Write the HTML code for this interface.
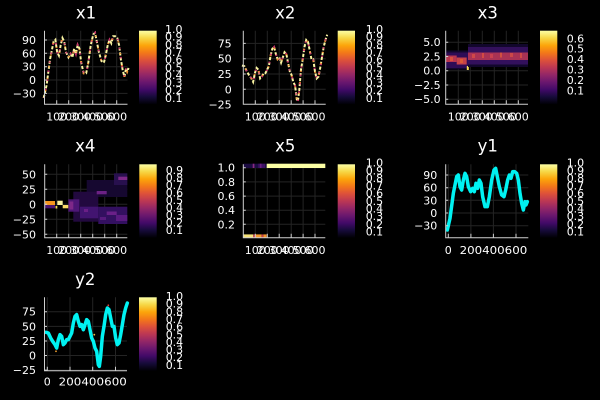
<!DOCTYPE html>
<html><head><meta charset="utf-8"><style>
html,body{margin:0;padding:0;background:#000;}
svg{display:block;}
text{font-family:"DejaVu Sans","Liberation Sans",sans-serif;fill:#fff;}
.t{font-size:16.5px;text-anchor:middle;}
.yl{font-size:11px;text-anchor:end;}
.xl{font-size:11px;text-anchor:middle;}
.cl{font-size:11px;text-anchor:start;}
.g{stroke:#242424;stroke-width:1;fill:none;}
.ax{stroke:#cfcfcf;stroke-width:1;fill:none;}
</style></head><body>
<svg width="600" height="400" viewBox="0 0 600 400" xmlns="http://www.w3.org/2000/svg">
<defs>
<linearGradient id="inf" x1="0" y1="1" x2="0" y2="0">
<stop offset="0" stop-color="#000004"/><stop offset="0.1" stop-color="#160b39"/><stop offset="0.2" stop-color="#420a68"/><stop offset="0.3" stop-color="#6a176e"/><stop offset="0.4" stop-color="#932667"/><stop offset="0.5" stop-color="#bc3754"/><stop offset="0.6" stop-color="#dd513a"/><stop offset="0.7" stop-color="#f37819"/><stop offset="0.8" stop-color="#fca50a"/><stop offset="0.9" stop-color="#f6d746"/><stop offset="1" stop-color="#fcffa4"/>
</linearGradient>
<path id="p1" d="M22,210 L30,175 L40,100 L50,50 L55,45 L60,80 L65,90 L70,60 L75,40 L80,50 L85,80 L92,95 L98,85 L103,95 L108,70 L113,85 L118,60 L123,70 L128,110 L135,140 L142,140 L148,110 L155,60 L162,30 L167,25 L172,50 L178,80 L185,105 L192,110 L197,90 L203,60 L208,45 L213,55 L218,35 L224,35 L230,40 L235,60 L240,100 L245,130 L250,150 L255,125 L258,135 L262,125"/>
<path id="p2" d="M18,118 L25,120 L32,135 L38,145 L45,155 L50,165 L55,140 L60,125 L65,130 L70,155 L75,150 L80,140 L85,140 L90,130 L95,120 L100,90 L105,70 L110,65 L115,85 L120,100 L125,95 L130,110 L135,95 L140,80 L145,85 L150,110 L155,135 L160,145 L165,165 L170,175 L175,215 L178,220 L182,190 L187,130 L192,100 L197,65 L202,45 L207,50 L212,75 L217,100 L222,100 L227,135 L232,155 L237,150 L242,125 L247,95 L252,65 L257,45 L262,30"/>
</defs>
<rect x="0" y="0" width="600" height="400" fill="#000"/>

<!-- ===== x1 ===== -->
<text class="t" x="86" y="18.3">x1</text>
<g class="g">
<path d="M44.5,40H127.5M44.5,53.3H127.5M44.5,66.7H127.5M44.5,80H127.5M44.5,93.4H127.5"/>
<path d="M56.7,30.7V104.3M68.7,30.7V104.3M80.7,30.7V104.3M92.7,30.7V104.3M104.7,30.7V104.3M116.7,30.7V104.3"/>
</g>
<use href="#p1" transform="matrix(0.354 0 0 0.3527 35.9 23.9)" fill="none" stroke="#fbf5a2" stroke-width="5.6" stroke-dasharray="9 5"/>
<use href="#p1" transform="matrix(0.354 0 0 0.3527 35.9 23.9)" fill="none" stroke="#c8306a" stroke-width="5.6" stroke-dasharray="4 22" stroke-dashoffset="3"/>
<use href="#p1" transform="matrix(0.354 0 0 0.3527 35.9 23.9)" fill="none" stroke="#f08a2a" stroke-width="5.6" stroke-dasharray="3 31" stroke-dashoffset="14"/>
<g class="ax"><path d="M44.5,30.7V104.3H127.5"/>
<path d="M56.7,104.3v-4M68.7,104.3v-4M80.7,104.3v-4M92.7,104.3v-4M104.7,104.3v-4M116.7,104.3v-4M44.5,40h2.5M44.5,53.3h2.5M44.5,66.7h2.5M44.5,80h2.5M44.5,93.4h2.5"/></g>
<text class="yl" x="36" y="44">90</text><text class="yl" x="36" y="57.3">60</text><text class="yl" x="36" y="70.7">30</text><text class="yl" x="36" y="84">0</text><text class="yl" x="36" y="97.4">−30</text>
<text class="xl" x="56.7" y="120.5">100</text><text class="xl" x="68.7" y="120.5">200</text><text class="xl" x="80.7" y="120.5">300</text><text class="xl" x="92.7" y="120.5">400</text><text class="xl" x="104.7" y="120.5">500</text><text class="xl" x="116.7" y="120.5">600</text>
<rect x="139" y="30.7" width="17.7" height="73.6" fill="url(#inf)"/>
<text class="cl" x="165" y="33.1">1.0</text><text class="cl" x="165" y="40.7">0.9</text><text class="cl" x="165" y="48.4">0.8</text><text class="cl" x="165" y="56">0.7</text><text class="cl" x="165" y="63.6">0.6</text><text class="cl" x="165" y="71.3">0.5</text><text class="cl" x="165" y="78.9">0.4</text><text class="cl" x="165" y="86.5">0.3</text><text class="cl" x="165" y="94.2">0.2</text><text class="cl" x="165" y="101.8">0.1</text>

<!-- ===== x2 ===== -->
<text class="t" x="285.3" y="18.3">x2</text>
<g class="g">
<path d="M243.3,43.4H325.7M243.3,58.7H325.7M243.3,74H325.7M243.3,89.3H325.7"/>
<path d="M255.3,30.7V104.3M267.3,30.7V104.3M279.2,30.7V104.3M291.2,30.7V104.3M303.1,30.7V104.3M315,30.7V104.3"/>
</g>
<use href="#p2" transform="matrix(0.3494 0 0 0.35 235.65 24.2)" fill="none" stroke="#fbf5a2" stroke-width="5.7" stroke-dasharray="9 5"/>
<use href="#p2" transform="matrix(0.3494 0 0 0.35 235.65 24.2)" fill="none" stroke="#c8306a" stroke-width="5.7" stroke-dasharray="4 20" stroke-dashoffset="5"/>
<use href="#p2" transform="matrix(0.3494 0 0 0.35 235.65 24.2)" fill="none" stroke="#f08a2a" stroke-width="5.7" stroke-dasharray="3 29" stroke-dashoffset="17"/>
<g class="ax"><path d="M243.3,30.7V104.3H325.7"/>
<path d="M255.3,104.3v-4M267.3,104.3v-4M279.2,104.3v-4M291.2,104.3v-4M303.1,104.3v-4M315,104.3v-4M243.3,43.4h2.5M243.3,58.7h2.5M243.3,74h2.5M243.3,89.3h2.5"/></g>
<text class="yl" x="231.7" y="47.4">75</text><text class="yl" x="231.7" y="62.7">50</text><text class="yl" x="231.7" y="78">25</text><text class="yl" x="231.7" y="93.3">0</text><text class="yl" x="231.7" y="108.6">−25</text>
<text class="xl" x="255.3" y="120.5">100</text><text class="xl" x="267.3" y="120.5">200</text><text class="xl" x="279.2" y="120.5">300</text><text class="xl" x="291.2" y="120.5">400</text><text class="xl" x="303.1" y="120.5">500</text><text class="xl" x="315" y="120.5">600</text>
<rect x="337.7" y="30.7" width="17.3" height="73.6" fill="url(#inf)"/>
<text class="cl" x="365.7" y="33.1">1.0</text><text class="cl" x="365.7" y="40.7">0.9</text><text class="cl" x="365.7" y="48.4">0.8</text><text class="cl" x="365.7" y="56">0.7</text><text class="cl" x="365.7" y="63.6">0.6</text><text class="cl" x="365.7" y="71.3">0.5</text><text class="cl" x="365.7" y="78.9">0.4</text><text class="cl" x="365.7" y="86.5">0.3</text><text class="cl" x="365.7" y="94.2">0.2</text><text class="cl" x="365.7" y="101.8">0.1</text>

<!-- ===== x3 ===== -->
<text class="t" x="487.7" y="18.3">x3</text>
<g class="g">
<path d="M445.7,42.2H528M445.7,56.5H528M445.7,70.7H528M445.7,85H528M445.7,99.2H528"/>
<path d="M458.3,30.7V104.3M470.3,30.7V104.3M482.3,30.7V104.3M494.3,30.7V104.3M506.3,30.7V104.3M518.3,30.7V104.3"/>
</g>
<rect x="445.7" y="50.5" width="22.3" height="19" fill="#12072c"/>
<rect x="445.7" y="52.5" width="22.3" height="15.5" fill="#2e0c56"/>
<rect x="445.7" y="55.5" width="11" height="6.5" fill="#b8364f"/>
<rect x="456.7" y="57.5" width="10" height="7" fill="#c6434a"/>
<rect x="450" y="57" width="3" height="4" fill="#d85040"/>
<rect x="460" y="59" width="3" height="4" fill="#dc5a38"/>
<rect x="466.8" y="66" width="2" height="4" fill="#f6dc5a"/>
<rect x="468" y="44" width="60" height="23" fill="#12072c"/>
<rect x="468" y="47" width="60" height="17.5" fill="#33105c"/>
<rect x="468" y="52.5" width="60" height="7.5" fill="#a93254"/>
<rect x="472" y="54" width="3" height="4" fill="#cf4848"/>
<rect x="482" y="53" width="2" height="5" fill="#d24a44"/>
<rect x="490" y="54" width="3" height="4" fill="#c84050"/>
<rect x="500" y="52.5" width="2" height="5" fill="#d25040"/>
<rect x="510" y="53" width="3" height="4" fill="#cc4848"/>
<rect x="520" y="53" width="2" height="5" fill="#d04a46"/>
<g class="ax"><path d="M445.7,30.7V104.3H528"/>
<path d="M458.3,104.3v-4M470.3,104.3v-4M482.3,104.3v-4M494.3,104.3v-4M506.3,104.3v-4M518.3,104.3v-4M445.7,42.2h2.5M445.7,56.5h2.5M445.7,70.7h2.5M445.7,85h2.5M445.7,99.2h2.5"/></g>
<text class="yl" x="440.7" y="46.2">5.0</text><text class="yl" x="440.7" y="60.5">2.5</text><text class="yl" x="440.7" y="74.7">0.0</text><text class="yl" x="440.7" y="89">−2.5</text><text class="yl" x="440.7" y="103.2">−5.0</text>
<text class="xl" x="458.3" y="120.5">100</text><text class="xl" x="470.3" y="120.5">200</text><text class="xl" x="482.3" y="120.5">300</text><text class="xl" x="494.3" y="120.5">400</text><text class="xl" x="506.3" y="120.5">500</text><text class="xl" x="518.3" y="120.5">600</text>
<rect x="540" y="30.7" width="17.3" height="73.6" fill="url(#inf)"/>
<text class="cl" x="566.7" y="42.3">0.6</text><text class="cl" x="566.7" y="52.7">0.5</text><text class="cl" x="566.7" y="63">0.4</text><text class="cl" x="566.7" y="73.7">0.3</text><text class="cl" x="566.7" y="84">0.2</text><text class="cl" x="566.7" y="94.7">0.1</text>

<!-- ===== x4 ===== -->
<text class="t" x="85.3" y="151.7">x4</text>
<g class="g">
<path d="M44.7,174.3H127.3M44.7,189.3H127.3M44.7,204.3H127.3M44.7,219.3H127.3M44.7,234.3H127.3"/>
<path d="M56.7,164.3V237.7M68.7,164.3V237.7M80.7,164.3V237.7M92.7,164.3V237.7M104.7,164.3V237.7M116.7,164.3V237.7"/>
</g>
<rect x="86.7" y="180" width="40.6" height="17" fill="#160830"/>
<rect x="114" y="173.3" width="13.3" height="11.7" fill="#28104e"/>
<rect x="118.3" y="176.7" width="9" height="3.3" fill="#7e2888"/>
<rect x="73.3" y="191.7" width="25" height="30" fill="#22093f"/>
<rect x="68.3" y="199.3" width="11" height="12.4" fill="#4d1676"/>
<rect x="69.3" y="201.5" width="4" height="8" fill="#7e2888"/>
<rect x="80" y="206.7" width="18.3" height="11.6" fill="#421470"/>
<rect x="84" y="209" width="4" height="3" fill="#6a1f86"/>
<rect x="98.3" y="206.7" width="29" height="17.3" fill="#331060"/>
<rect x="96.7" y="191" width="10" height="3.3" fill="#6c2184"/>
<rect x="106.7" y="211.5" width="10" height="3.5" fill="#6a2088"/>
<rect x="116" y="215" width="11.3" height="6" fill="#5a1a80"/>
<rect x="100" y="217" width="6" height="3" fill="#581a7e"/>
<rect x="44.7" y="201" width="10.3" height="4" fill="#f5961e"/>
<rect x="44.7" y="205" width="10.3" height="3.3" fill="#4a1670"/>
<rect x="55.5" y="206" width="1.8" height="2.5" fill="#f4d85a"/>
<rect x="57.3" y="200.7" width="5.4" height="4.3" fill="#faf2a0"/>
<rect x="62.7" y="205" width="5.6" height="3.3" fill="#f8d868"/>
<g class="ax"><path d="M44.7,164.3V237.7H127.3"/>
<path d="M56.7,237.7v-4M68.7,237.7v-4M80.7,237.7v-4M92.7,237.7v-4M104.7,237.7v-4M116.7,237.7v-4M44.7,174.3h2.5M44.7,189.3h2.5M44.7,204.3h2.5M44.7,219.3h2.5M44.7,234.3h2.5"/></g>
<text class="yl" x="36" y="178.3">50</text><text class="yl" x="36" y="193.3">25</text><text class="yl" x="36" y="208.3">0</text><text class="yl" x="36" y="223.3">−25</text><text class="yl" x="36" y="238.3">−50</text>
<text class="xl" x="56.7" y="254">100</text><text class="xl" x="68.7" y="254">200</text><text class="xl" x="80.7" y="254">300</text><text class="xl" x="92.7" y="254">400</text><text class="xl" x="104.7" y="254">500</text><text class="xl" x="116.7" y="254">600</text>
<rect x="139.3" y="164.3" width="17.4" height="73.4" fill="url(#inf)"/>
<text class="cl" x="165.7" y="174">0.9</text><text class="cl" x="165.7" y="181.5">0.8</text><text class="cl" x="165.7" y="189">0.7</text><text class="cl" x="165.7" y="196.5">0.6</text><text class="cl" x="165.7" y="204">0.5</text><text class="cl" x="165.7" y="211.5">0.4</text><text class="cl" x="165.7" y="219">0.3</text><text class="cl" x="165.7" y="226.5">0.2</text><text class="cl" x="165.7" y="234">0.1</text>

<!-- ===== x5 ===== -->
<text class="t" x="285.3" y="151.7">x5</text>
<g class="g">
<path d="M243.3,167.7H325.3M243.3,181.9H325.3M243.3,196.1H325.3M243.3,210.2H325.3M243.3,224.3H325.3"/>
<path d="M255.3,164.3V237.7M267.3,164.3V237.7M279.2,164.3V237.7M291.2,164.3V237.7M303.1,164.3V237.7M315,164.3V237.7"/>
</g>
<rect x="243.3" y="163.7" width="23.4" height="4.3" fill="#1c0b42"/>
<rect x="252.7" y="163.7" width="1.7" height="4.3" fill="#8a2a80"/>
<rect x="258.3" y="163.7" width="6.7" height="4.3" fill="#3e1264"/>
<rect x="260" y="163.7" width="1.5" height="4.3" fill="#6a1f80"/>
<rect x="266.7" y="163.7" width="58.6" height="4.3" fill="#fcffa4"/>
<rect x="243.3" y="234.4" width="10" height="3.3" fill="#f6e27a"/>
<rect x="253.3" y="234.4" width="1.7" height="3.3" fill="#d04050"/>
<rect x="255" y="234.4" width="6.7" height="3.3" fill="#f59a30"/>
<rect x="261.7" y="234.4" width="1.6" height="3.3" fill="#c83c50"/>
<rect x="263.3" y="234.4" width="3.4" height="3.3" fill="#f3902c"/>
<g class="ax"><path d="M243.3,164.3V237.7H325.3"/>
<path d="M255.3,237.7v-4M267.3,237.7v-4M279.2,237.7v-4M291.2,237.7v-4M303.1,237.7v-4M315,237.7v-4M243.3,167.7h2.5M243.3,181.9h2.5M243.3,196.1h2.5M243.3,210.2h2.5M243.3,224.3h2.5"/></g>
<text class="yl" x="235" y="171.7">1.0</text><text class="yl" x="235" y="185.9">0.8</text><text class="yl" x="235" y="200.1">0.6</text><text class="yl" x="235" y="214.2">0.4</text><text class="yl" x="235" y="228.3">0.2</text>
<text class="xl" x="255.3" y="254">100</text><text class="xl" x="267.3" y="254">200</text><text class="xl" x="279.2" y="254">300</text><text class="xl" x="291.2" y="254">400</text><text class="xl" x="303.1" y="254">500</text><text class="xl" x="315" y="254">600</text>
<rect x="337.7" y="164.3" width="17.3" height="73.4" fill="url(#inf)"/>
<text class="cl" x="365.7" y="166.7">1.0</text><text class="cl" x="365.7" y="174.3">0.9</text><text class="cl" x="365.7" y="182">0.8</text><text class="cl" x="365.7" y="189.6">0.7</text><text class="cl" x="365.7" y="197.2">0.6</text><text class="cl" x="365.7" y="204.9">0.5</text><text class="cl" x="365.7" y="212.5">0.4</text><text class="cl" x="365.7" y="220.1">0.3</text><text class="cl" x="365.7" y="227.8">0.2</text><text class="cl" x="365.7" y="235.4">0.1</text>

<!-- ===== y1 ===== -->
<text class="t" x="487.7" y="151.7">y1</text>
<g class="g">
<path d="M445.7,175H528.3M445.7,187.7H528.3M445.7,200.3H528.3M445.7,213H528.3M445.7,225.7H528.3"/>
<path d="M448.3,164.3V237.7M470.9,164.3V237.7M493.4,164.3V237.7M516,164.3V237.7"/>
</g>
<use href="#p1" transform="matrix(0.33333 0 0 0.33333 440 160)" fill="none" stroke="#00f2f2" stroke-width="10.5" stroke-linejoin="round" stroke-linecap="round"/>
<g class="ax"><path d="M445.7,164.3V237.7H528.3"/>
<path d="M448.3,237.7v-4M470.9,237.7v-4M493.4,237.7v-4M516,237.7v-4M445.7,175h2.5M445.7,187.7h2.5M445.7,200.3h2.5M445.7,213h2.5M445.7,225.7h2.5"/></g>
<text class="yl" x="437.3" y="179">90</text><text class="yl" x="437.3" y="191.7">60</text><text class="yl" x="437.3" y="204.3">30</text><text class="yl" x="437.3" y="217">0</text><text class="yl" x="437.3" y="229.7">−30</text>
<text class="xl" x="448.3" y="254">0</text><text class="xl" x="470.9" y="254" textLength="22.6" lengthAdjust="spacingAndGlyphs">200</text><text class="xl" x="493.4" y="254" textLength="22.6" lengthAdjust="spacingAndGlyphs">400</text><text class="xl" x="516" y="254" textLength="22.6" lengthAdjust="spacingAndGlyphs">600</text>
<rect x="540" y="164.3" width="17.3" height="73.4" fill="url(#inf)"/>
<text class="cl" x="566.7" y="166.7">1.0</text><text class="cl" x="566.7" y="174.3">0.9</text><text class="cl" x="566.7" y="182">0.8</text><text class="cl" x="566.7" y="189.6">0.7</text><text class="cl" x="566.7" y="197.2">0.6</text><text class="cl" x="566.7" y="204.9">0.5</text><text class="cl" x="566.7" y="212.5">0.4</text><text class="cl" x="566.7" y="220.1">0.3</text><text class="cl" x="566.7" y="227.8">0.2</text><text class="cl" x="566.7" y="235.4">0.1</text>

<!-- ===== y2 ===== -->
<text class="t" x="85.3" y="285">y2</text>
<g class="g">
<path d="M44.5,311.7H127M44.5,326.4H127M44.5,341H127M44.5,355.5H127M44.5,370.1H127"/>
<path d="M47.3,297.3V370.7M70,297.3V370.7M92.7,297.3V370.7M115.5,297.3V370.7"/>
</g>
<use href="#p2" transform="matrix(0.33333 0 0 0.33333 40 293)" fill="none" stroke="#00f2f2" stroke-width="10.5" stroke-linejoin="round" stroke-linecap="round"/>
<circle cx="108.3" cy="305.3" r="0.9" fill="#e04040"/>
<circle cx="94.3" cy="334.7" r="0.9" fill="#f0c040"/>
<circle cx="56" cy="351.3" r="0.9" fill="#f0a030"/>
<g class="ax"><path d="M44.5,297.3V370.7H127"/>
<path d="M47.3,370.7v-4M70,370.7v-4M92.7,370.7v-4M115.5,370.7v-4M44.5,311.7h2.5M44.5,326.4h2.5M44.5,341h2.5M44.5,355.5h2.5M44.5,370.1h2.5"/></g>
<text class="yl" x="36" y="315.7">75</text><text class="yl" x="36" y="330.4">50</text><text class="yl" x="36" y="345">25</text><text class="yl" x="36" y="359.5">0</text><text class="yl" x="36" y="374.1">−25</text>
<text class="xl" x="47.3" y="385.7">0</text><text class="xl" x="70" y="385.7" textLength="22.6" lengthAdjust="spacingAndGlyphs">200</text><text class="xl" x="92.7" y="385.7" textLength="22.6" lengthAdjust="spacingAndGlyphs">400</text><text class="xl" x="115.5" y="385.7" textLength="22.6" lengthAdjust="spacingAndGlyphs">600</text>
<rect x="139" y="297.3" width="17.7" height="73.4" fill="url(#inf)"/>
<text class="cl" x="165.7" y="300.1">1.0</text><text class="cl" x="165.7" y="307.7">0.9</text><text class="cl" x="165.7" y="315.4">0.8</text><text class="cl" x="165.7" y="323">0.7</text><text class="cl" x="165.7" y="330.6">0.6</text><text class="cl" x="165.7" y="338.3">0.5</text><text class="cl" x="165.7" y="345.9">0.4</text><text class="cl" x="165.7" y="353.5">0.3</text><text class="cl" x="165.7" y="361.2">0.2</text><text class="cl" x="165.7" y="368.8">0.1</text>
</svg>
</body></html>
